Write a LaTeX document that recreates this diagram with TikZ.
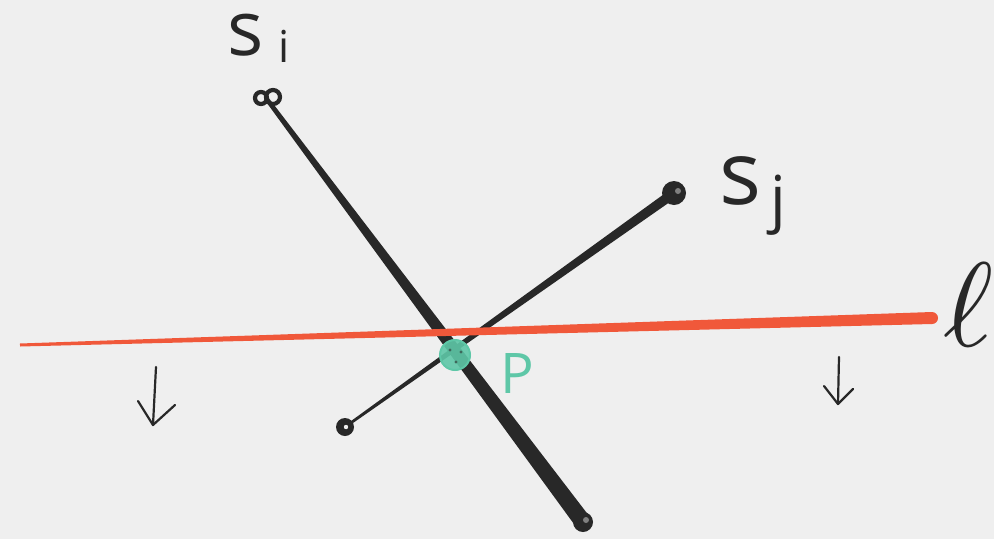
\documentclass[tikz,border=0pt]{standalone}
\usepackage{fontspec}
\newfontfamily\hand{Open Sans}
\usetikzlibrary{calc}
\definecolor{bg}{RGB}{239,239,239}
\definecolor{ink}{RGB}{40,40,40}
\definecolor{redl}{RGB}{240,88,58}
\definecolor{teal}{RGB}{94,199,167}
\tikzset{
  endpt/.style={circle,fill=ink,inner sep=0pt,minimum size=#1},
  lbl/.style={inner sep=0pt,anchor=base west,text=ink},
  downarrow/.style={draw=ink,line width=2.2pt,line cap=round,line join=round}
}
\begin{document}
\begin{tikzpicture}[x=1pt,y=-1pt]
\fill[bg] (0,0) rectangle (994,539);
\useasboundingbox (0,0) rectangle (994,539);
% coordinates
\coordinate (Ai) at (266,98);
\coordinate (Bi) at (583,522);
\coordinate (Aj) at (345,427);
\coordinate (Bj) at (674,193);
\coordinate (La) at (20,345);
\coordinate (Lb) at (932,318);
% segment s_j (tapered)
\fill[ink] ($(Aj)!1.3pt!90:(Bj)$) -- ($(Bj)!5pt!-90:(Aj)$) -- ($(Bj)!5pt!90:(Aj)$) -- ($(Aj)!1.3pt!-90:(Bj)$) -- cycle;
% segment s_i (tapered)
\fill[ink] ($(Ai)!2.2pt!90:(Bi)$) -- ($(Bi)!8.5pt!-90:(Ai)$) -- ($(Bi)!8.5pt!90:(Ai)$) -- ($(Ai)!2.2pt!-90:(Bi)$) -- cycle;
% red line l
\fill[redl] ($(La)!1.5pt!90:(Lb)$) -- ($(Lb)!6pt!-90:(La)$) -- ($(Lb)!6pt!90:(La)$) -- ($(La)!1.5pt!-90:(Lb)$) -- cycle;
\fill[redl] (Lb) circle (6);
% endpoints
\draw[ink,line width=4.2pt] (261,98) circle (6);
\draw[ink,line width=4.2pt] (273,97) circle (7);
\node[endpt=24pt] (sj2) at (Bj) {};
\fill[gray] (678,191) circle (3);
\node[endpt=18pt] (sj1) at (Aj) {};
\fill[bg] (346,427) circle (2.2);
\node[endpt=20pt] (si2) at (Bi) {};
\fill[gray] (586,520) circle (3);
% intersection P
\node[circle,fill=teal,fill opacity=0.9,draw=teal,line width=2pt,inner sep=0pt,minimum size=30pt] (P) at (455,355) {};
\fill[ink!60!teal] (450,350) circle (1.6) (461,352) circle (1.6) (456,362) circle (1.6);
% labels
\node[lbl,text height=44pt,font=\hand\fontsize{76}{76}\selectfont] (si) at (227,55) {s};
\node[lbl,font=\hand\fontsize{44}{44}\selectfont] (sii) at (278,62) {i};
\node[lbl,font=\hand\fontsize{88}{88}\selectfont] (sjl) at (719,204) {s};
\node[lbl,font=\hand\fontsize{62}{62}\selectfont] (sjj) at (770,220) {j};
\node[lbl,text=teal,font=\hand\fontsize{56}{56}\selectfont] (Pl) at (500,393) {P};
\node[inner sep=0pt,anchor=base west,text=ink,scale=12] (ell) at (941,346) {$\ell$};
% down arrows
\coordinate (a1t) at (156,367);
\coordinate (a1b) at (153,425);
\draw[downarrow] (a1t) -- (a1b);
\draw[downarrow] (138,401) -- (a1b) -- (175,405);
\coordinate (a2t) at (839,357);
\coordinate (a2b) at (838,404);
\draw[downarrow] (a2t) -- (a2b);
\draw[downarrow] (824,386) -- (a2b) -- (853,389);
\end{tikzpicture}
\end{document}
